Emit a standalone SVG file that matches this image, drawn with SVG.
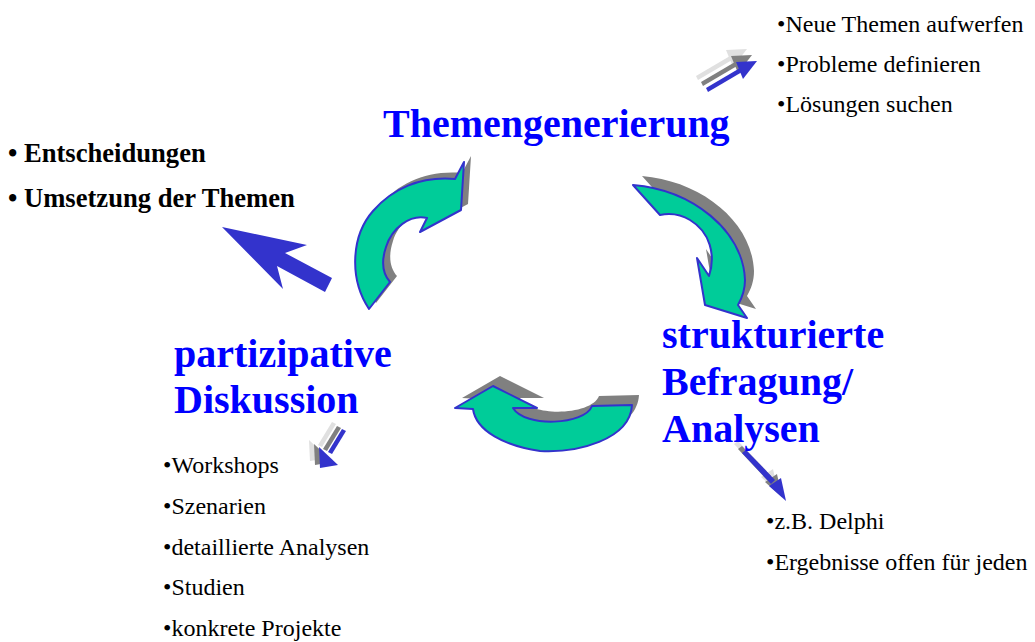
<svg xmlns="http://www.w3.org/2000/svg" width="1035" height="642" viewBox="0 0 1035 642">
<style>
.h{font-family:"Liberation Serif","Times New Roman",serif;font-weight:bold;font-size:40px;fill:#0000FF}
.s{font-family:"Liberation Serif","Times New Roman",serif;font-size:24px;fill:#000}
.b{font-family:"Liberation Serif","Times New Roman",serif;font-weight:bold;font-size:26.6px;fill:#000}
.cyc{fill:#00CC99;stroke:#3333CC;stroke-width:2;stroke-linejoin:round}
.sh{fill:#808080}
.bl{fill:#3333CC}
.g1{fill:#808080}
.g2{fill:#E0E0E0}
</style>
<defs>
<path id="a1" d="M369,309 C349,279 351,236 373,211 C392,189 420,176 455,179 L464,162 L461,210 L420,232 L427,218 C410,214 392,228 386,247 C381,262 383,274 390,282 Z"/>
<path id="a2" d="M633,185 C692,190 743,230 745,280 C745,290 742,298 738,305 L747,318 L705,305 L697,258 L709,276 C716,255 710,232 690,220 C680,214 670,213 660,215 Z"/>
<path id="a3" d="M493,386 L455,408 L473,409 C476,431 505,446 540,451 C577,453 630,440 632,405 L592,406 C585,425 525,428 513,408 L537,408 Z"/>
<g id="sa1"><path d="M706,88 L740,68 L742,72 L708,92 Z"/><path d="M736,62 L757,61 L743,79 Z"/></g>
<g id="sa2"><path d="M342,429 L346,431 L332,454 L328,452 Z"/><path d="M319,447 L338,465 L320,468 Z"/></g>
<g id="sa3"><path d="M742,453 L746,450 L775,480 L771,484 Z"/><path d="M769,486 L781,478 L786,501 Z"/></g>
</defs>
<g id="connectors">
<use href="#a1" class="sh" transform="translate(7,-6)"/>
<use href="#a1" class="cyc"/>
<use href="#a2" class="sh" transform="translate(9,-9)"/>
<use href="#a2" class="cyc"/>
<use href="#a3" class="sh" transform="translate(7,-10)"/>
<use href="#a3" class="cyc"/>
<polygon class="bl" points="222,227 307,245 285,253 332,278 325,292 277,266 283,289"/>
<use href="#sa1" class="g2" transform="translate(-10,-12)"/>
<use href="#sa1" class="g1" transform="translate(-5,-6)"/>
<use href="#sa1" class="bl"/>
<use href="#sa2" class="g2" transform="translate(-10,-7)"/>
<use href="#sa2" class="g1" transform="translate(-5,-3)"/>
<use href="#sa2" class="bl"/>
<use href="#sa3" class="g2" transform="translate(-8,-9)"/>
<use href="#sa3" class="g1" transform="translate(-4,-4)"/>
<use href="#sa3" class="bl"/>
</g>
<g id="themengenerierung"><text class="h" x="383" y="137">Themengenerierung</text></g>
<g id="befragung"><text class="h" x="662" y="348">strukturierte</text><text class="h" x="662" y="395">Befragung/</text><text class="h" x="662" y="442">Analysen</text></g>
<g id="diskussion"><text class="h" x="174" y="367">partizipative</text><text class="h" x="174" y="413">Diskussion</text></g>
<g id="themen-list"><text class="s" x="777" y="32">•Neue Themen aufwerfen</text><text class="s" x="777" y="72">•Probleme definieren</text><text class="s" x="777" y="112">•Lösungen suchen</text></g>
<g id="entscheidungen"><text class="b" x="8" y="162">• Entscheidungen</text><text class="b" x="8" y="207">• Umsetzung der Themen</text></g>
<g id="diskussion-list"><text class="s" x="163" y="473">•Workshops</text><text class="s" x="163" y="514">•Szenarien</text><text class="s" x="163" y="555">•detaillierte Analysen</text><text class="s" x="163" y="595">•Studien</text><text class="s" x="163" y="636">•konkrete Projekte</text></g>
<g id="befragung-list"><text class="s" x="766" y="529">•z.B. Delphi</text><text class="s" x="766" y="570">•Ergebnisse offen für jeden</text></g>
</svg>
